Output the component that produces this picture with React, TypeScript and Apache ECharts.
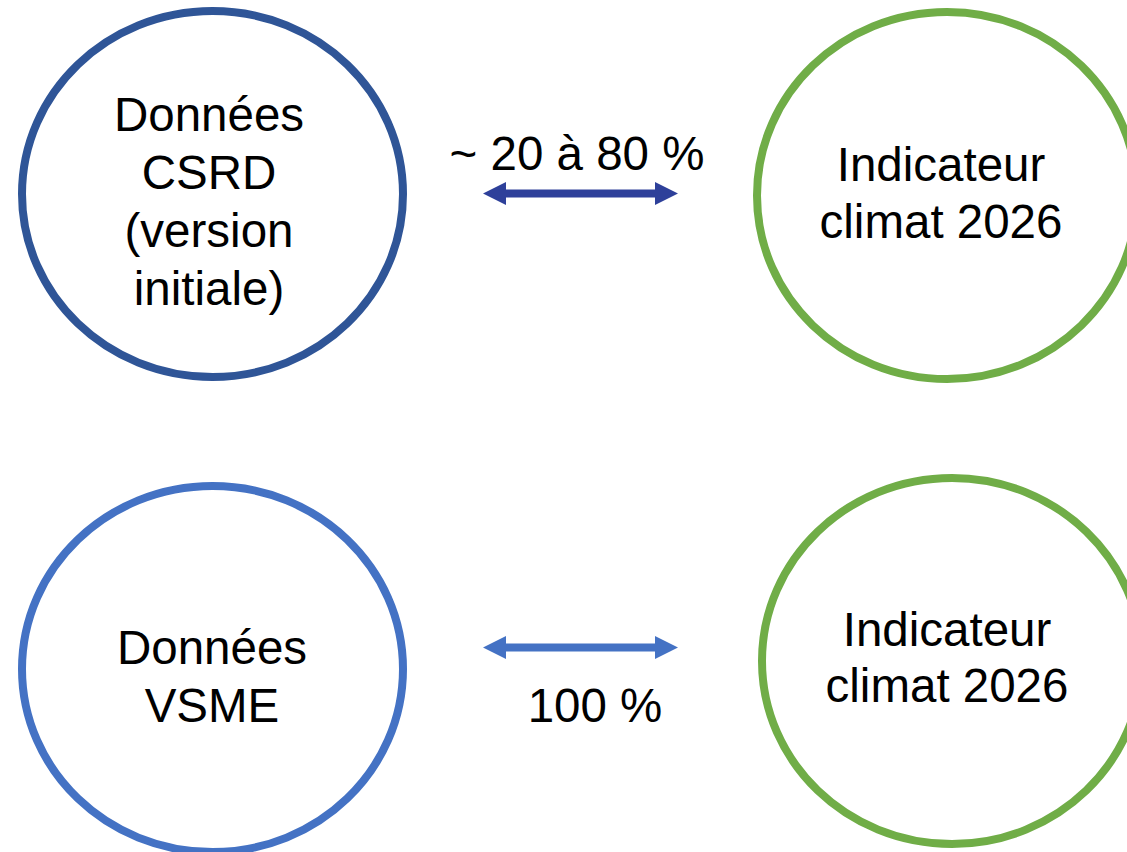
import React, { useEffect, useRef } from "react";
import * as echarts from "echarts";

// Diagram content
const circleLabels: string[] = [
  "Données\nCSRD\n(version\ninitiale)",
  "Indicateur\nclimat 2026",
  "Données\nVSME",
  "Indicateur\nclimat 2026",
];
const circleColors: string[] = ["#2F5597", "#70AD47", "#4472C4", "#70AD47"];
const arrowLabels: string[] = ["~ 20 à 80 %", "100 %"];
const arrowColors: string[] = ["#2E409A", "#4472C4"];

// Layout (positions and sizes)
const circleLayout = [
  { cx: 212.5, cy: 194, rx: 190.5, ry: 183, tx: 209, ty: 201, lh: 58 },
  { cx: 947, cy: 195.5, rx: 190, ry: 183.5, tx: 941, ty: 192.5, lh: 57 },
  { cx: 212.5, cy: 669, rx: 190.5, ry: 183, tx: 212, ty: 676, lh: 58 },
  { cx: 952, cy: 661, rx: 190, ry: 183, tx: 947, ty: 657, lh: 56 },
];
const arrowLayout = [
  { x1: 483, x2: 678, y: 193.5, lx: 577, ly: 153 },
  { x1: 483, x2: 678, y: 647.5, lx: 595, ly: 705 },
];

const FONT = "'Liberation Sans', Arial, Helvetica, sans-serif";
const FS = 47.5;

function arrowPoints(x1: number, x2: number, y: number): number[][] {
  const head = 23;
  const hh = 11.5;
  const sh = 4;
  return [
    [x1, y],
    [x1 + head, y - hh],
    [x1 + head, y - sh],
    [x2 - head, y - sh],
    [x2 - head, y - hh],
    [x2, y],
    [x2 - head, y + hh],
    [x2 - head, y + sh],
    [x1 + head, y + sh],
    [x1 + head, y + hh],
  ];
}

export default function App() {
  const ref = useRef<HTMLDivElement>(null);
  useEffect(() => {
    document.body.style.margin = "0";
    if (!ref.current) return;
    const chart = echarts.init(ref.current, undefined, { renderer: "svg" });
    const elements: any[] = [];
    circleLabels.forEach((label, i) => {
      const l = circleLayout[i];
      elements.push({
        type: "ellipse",
        shape: { cx: l.cx, cy: l.cy, rx: l.rx, ry: l.ry },
        style: { fill: "#ffffff", stroke: circleColors[i], lineWidth: 8 },
      });
      elements.push({
        type: "text",
        x: l.tx,
        y: l.ty,
        style: {
          text: label,
          fill: "#000000",
          fontSize: FS,
          fontFamily: FONT,
          lineHeight: l.lh,
          align: "center",
          verticalAlign: "middle",
        },
      });
    });
    arrowLabels.forEach((label, i) => {
      const a = arrowLayout[i];
      elements.push({
        type: "polygon",
        shape: { points: arrowPoints(a.x1, a.x2, a.y) },
        style: { fill: arrowColors[i] },
      });
      elements.push({
        type: "text",
        x: a.lx,
        y: a.ly,
        style: {
          text: label,
          fill: "#000000",
          fontSize: FS,
          fontFamily: FONT,
          align: "center",
          verticalAlign: "middle",
        },
      });
    });
    chart.setOption({
      animation: false,
      backgroundColor: "#ffffff",
      graphic: { elements },
    });
    return () => chart.dispose();
  }, []);
  return (
    <div
      ref={ref}
      style={{ position: "absolute", left: 0, top: 0, width: 1127, height: 852 }}
    />
  );
}
